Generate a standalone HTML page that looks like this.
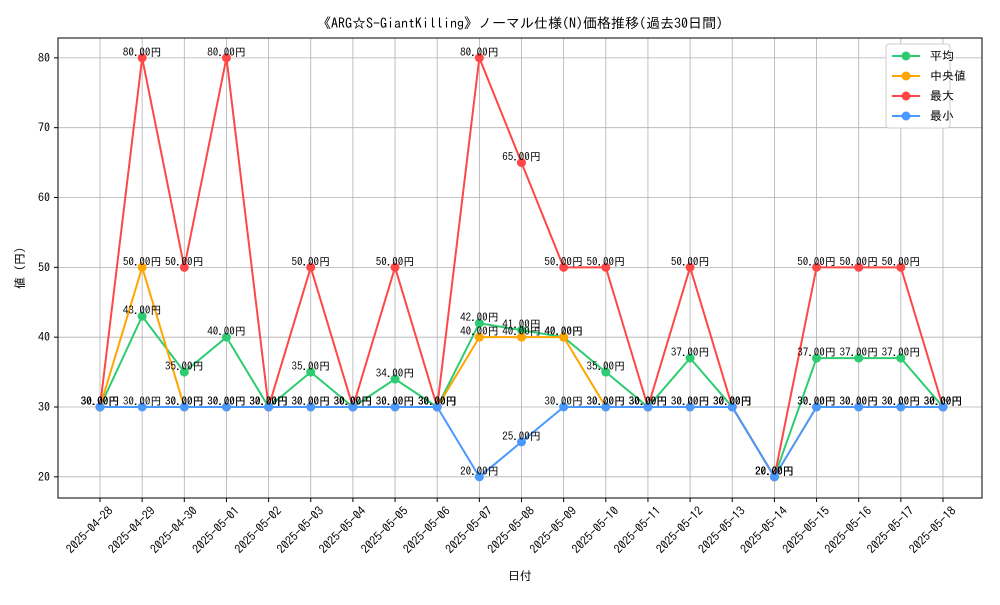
<!DOCTYPE html>
<html><head><meta charset="utf-8"><style>
body{margin:0;background:#fff}
svg text{font-family:"IPAGothic","Liberation Mono","Noto Sans CJK JP",monospace}
</style></head><body>
<svg id="chart" width="1000" height="600" xmlns="http://www.w3.org/2000/svg">
<rect width="1000" height="600" fill="#fff"/>
<text x="520" y="28" font-size="14" text-anchor="middle">《ARG☆S-GiantKilling》ノーマル仕様(N)価格推移(過去30日間)</text>
<g id="grid"></g><g id="axes"></g><g id="series"></g><g id="labels"></g>
<rect x="58" y="38" width="924" height="460" fill="none" stroke="#000" stroke-width="1"/>
<text x="520" y="580" font-size="12" text-anchor="middle">日付</text>
<text x="24" y="268" font-size="12" text-anchor="middle" transform="rotate(-90 24 268)">値 (円)</text>
<g id="legend">
<rect x="886" y="44" width="64" height="84" fill="#fff" stroke="#ccc" rx="3"/>
</g>
</svg>
<script>
const dates=["2025-04-28","2025-04-29","2025-04-30","2025-05-01","2025-05-02","2025-05-03","2025-05-04","2025-05-05","2025-05-06","2025-05-07","2025-05-08","2025-05-09","2025-05-10","2025-05-11","2025-05-12","2025-05-13","2025-05-14","2025-05-15","2025-05-16","2025-05-17","2025-05-18"];
const avgVals=[30,43,35,40,30,35,30,34,30,42,41,40,35,30,37,30,20,37,37,37,30];
const medianVals=[30,50,30,30,30,30,30,30,30,40,40,40,30,30,30,30,20,30,30,30,30];
const maxVals=[30,80,50,80,30,50,30,50,30,80,65,50,50,30,50,30,20,50,50,50,30];
const minVals=[30,30,30,30,30,30,30,30,30,20,25,30,30,30,30,30,20,30,30,30,30];
const yTicks=[20,30,40,50,60,70,80];
const seriesNames=["平均","中央値","最大","最小"];
const NS="http://www.w3.org/2000/svg";
function xs(i){return 100+i*(943-100)/(dates.length-1);}
function ys(v){return 407-(v-30)*6.983;}
function mk(tag,attrs,parent){const e=document.createElementNS(NS,tag);for(const k in attrs)e.setAttribute(k,attrs[k]);document.getElementById(parent).appendChild(e);return e;}
dates.forEach((d,i)=>{
 const g=mk("line",{x1:xs(i),x2:xs(i),y1:38,y2:498,stroke:"#b0b0b0","stroke-width":0.8},"grid");
 
 
 const t=mk("line",{x1:xs(i),x2:xs(i),y1:498,y2:502,stroke:"#000"},"axes");
 
 
 const lx=xs(i)+8, ly=506;
 const l=mk("text",{x:lx,y:ly,"font-size":12,"text-anchor":"end",transform:`rotate(-45 ${lx} ${ly})`,"dominant-baseline":"hanging"},"axes");
 l.textContent=d;
 
 
});
yTicks.forEach(v=>{
 const g=mk("line",{x1:58,x2:982,y1:ys(v),y2:ys(v),stroke:"#b0b0b0","stroke-width":0.8},"grid");
 
 
 const t=mk("line",{x1:54,x2:58,y1:ys(v),y2:ys(v),stroke:"#000"},"axes");
 
 
 const l=mk("text",{x:50,y:ys(v)+4,"font-size":12,"text-anchor":"end"},"axes");
 l.textContent=v;
 
 
});
const series=[[avgVals,"#2ecc71"],[medianVals,"#ffa500"],[maxVals,"#ff4747"],[minVals,"#4a99ff"]];
series.forEach(([vals,c],si)=>{
 const p=mk("polyline",{points:vals.map((v,i)=>xs(i)+","+ys(v)).join(" "),fill:"none",stroke:c,"stroke-width":2},"series");
 
 
 vals.forEach((v,i)=>{
  const m=mk("circle",{cx:xs(i),cy:ys(v),r:4.5,fill:c},"series");
  
  
  const t=mk("text",{x:xs(i),y:ys(v)-2,"font-size":11,"text-anchor":"middle"},"labels");
  t.textContent=v.toFixed(2)+"円";
  
  
 });
 const ly=56+si*20;
 const ll=mk("line",{x1:892,x2:920,y1:ly,y2:ly,stroke:c,"stroke-width":2},"legend");
 
 
 mk("circle",{cx:906,cy:ly,r:4.5,fill:c},"legend");
 const lt=mk("text",{x:930,y:ly+4,"font-size":12},"legend");
 lt.textContent=seriesNames[si];
 
 
});
</script>
</body></html>
